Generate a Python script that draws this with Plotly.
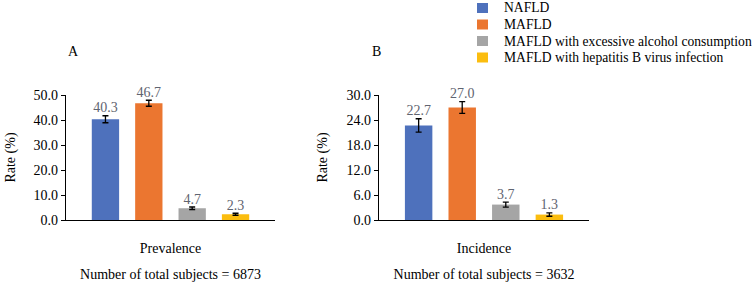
import plotly.graph_objects as go

series = ["NAFLD", "MAFLD", "MAFLD with excessive alcohol consumption",
          "MAFLD with hepatitis B virus infection"]
colors = ["#4e71bc", "#eb7630", "#a5a5a5", "#fbbd0f"]

panel_cats = ["Prevalence", "Incidence"]
panel_titles = ["Number of total subjects = 6873", "Number of total subjects = 3632"]
panel_letters = ["A", "B"]

prevalence = [40.3, 46.7, 4.7, 2.3]
prevalence_err = [1.4, 1.2, 0.5, 0.4]
incidence = [22.7, 27.0, 3.7, 1.3]
incidence_err = [1.6, 1.4, 0.6, 0.4]

y1_ticks = [0, 10, 20, 30, 40, 50]
y2_ticks = [0, 6, 12, 18, 24, 30]

FONT = "Liberation Serif"
W, H = 755, 284
BARGAP = 0.17


def px_x(v):
    return v / W


def px_y(v):
    return 1 - v / H


panels = [(prevalence, prevalence_err, "x", "y"), (incidence, incidence_err, "x2", "y2")]

fig = go.Figure()
for i, name in enumerate(series):
    for p, (vals, errs, xa, ya) in enumerate(panels):
        fig.add_trace(go.Bar(
            x=[panel_cats[p]], y=[vals[i]], name=name,
            marker=dict(color=colors[i], line=dict(width=0)),
            error_y=dict(type="data", array=[errs[i]], color="black",
                         thickness=1.3, width=3),
            xaxis=xa, yaxis=ya, showlegend=False, hoverinfo="skip",
        ))

# value labels sitting above the error bars, grouped like the bars
for i, name in enumerate(series):
    for p, (vals, errs, xa, ya) in enumerate(panels):
        fig.add_trace(go.Scatter(
            x=[panel_cats[p]], y=[vals[i] + errs[i]], mode="text",
            text=[f"{vals[i]:.1f}"], textposition="top center",
            textfont=dict(family=FONT, size=14, color="#5f6470"),
            cliponaxis=False, xaxis=xa, yaxis=ya, showlegend=False,
            hoverinfo="skip", name=name,
        ))

axis_common = dict(showgrid=False, zeroline=False, showline=True, linecolor="black",
                   linewidth=1.3, automargin=False,
                   tickfont=dict(family=FONT, size=14, color="black"))
title_font = dict(family=FONT, size=14, color="black")

# manual legend (rows 16.5 px apart, like the reference)
legend_rows_y = [8, 24.5, 41, 57.5]
shapes = []
annotations = []
for i, name in enumerate(series):
    yc = legend_rows_y[i]
    shapes.append(dict(type="rect", xref="paper", yref="paper",
                       x0=px_x(477), x1=px_x(488), y0=px_y(yc - 5), y1=px_y(yc + 5),
                       fillcolor=colors[i], line=dict(width=0)))
    annotations.append(dict(text=name, x=px_x(502), y=px_y(yc), xref="paper", yref="paper",
                            xanchor="left", yanchor="middle", showarrow=False,
                            font=dict(family=FONT, size=13.6, color="black")))

for letter, xpos in zip(panel_letters, [66, 376]):
    annotations.append(dict(text=letter, x=px_x(xpos), y=px_y(42), xref="paper", yref="paper",
                            showarrow=False, font=dict(family=FONT, size=14, color="black")))

fig.update_layout(
    template="none",
    width=W, height=H,
    margin=dict(l=0, r=0, t=0, b=0),
    paper_bgcolor="white", plot_bgcolor="white",
    barmode="group", bargap=BARGAP, bargroupgap=0.37,
    scattermode="group", scattergap=BARGAP,
    font=dict(family=FONT, size=14, color="black"),
    showlegend=False,
    xaxis=dict(domain=[px_x(66), px_x(275)], anchor="y", ticks="", ticklabelstandoff=15,
               title=dict(text=panel_titles[0], standoff=14, font=title_font),
               **axis_common),
    xaxis2=dict(domain=[px_x(379), px_x(589)], anchor="y2", ticks="", ticklabelstandoff=15,
                title=dict(text=panel_titles[1], standoff=14, font=title_font),
                **axis_common),
    yaxis=dict(domain=[px_y(220), px_y(95)], anchor="x", range=[0, 50],
               tickvals=y1_ticks, tickformat=".1f", ticks="outside", ticklen=4,
               tickcolor="black", tickwidth=1.3,
               title=dict(text="Rate (%)", standoff=14, font=title_font),
               **axis_common),
    yaxis2=dict(domain=[px_y(220), px_y(95)], anchor="x2", range=[0, 30],
                tickvals=y2_ticks, tickformat=".1f", ticks="outside", ticklen=4,
                tickcolor="black", tickwidth=1.3,
                title=dict(text="Rate (%)", standoff=15, font=title_font),
                **axis_common),
    shapes=shapes,
    annotations=annotations,
)

fig.write_html("out.html", config={"displayModeBar": False},
               post_script="document.body.style.margin='0';document.body.style.overflow='hidden';")
